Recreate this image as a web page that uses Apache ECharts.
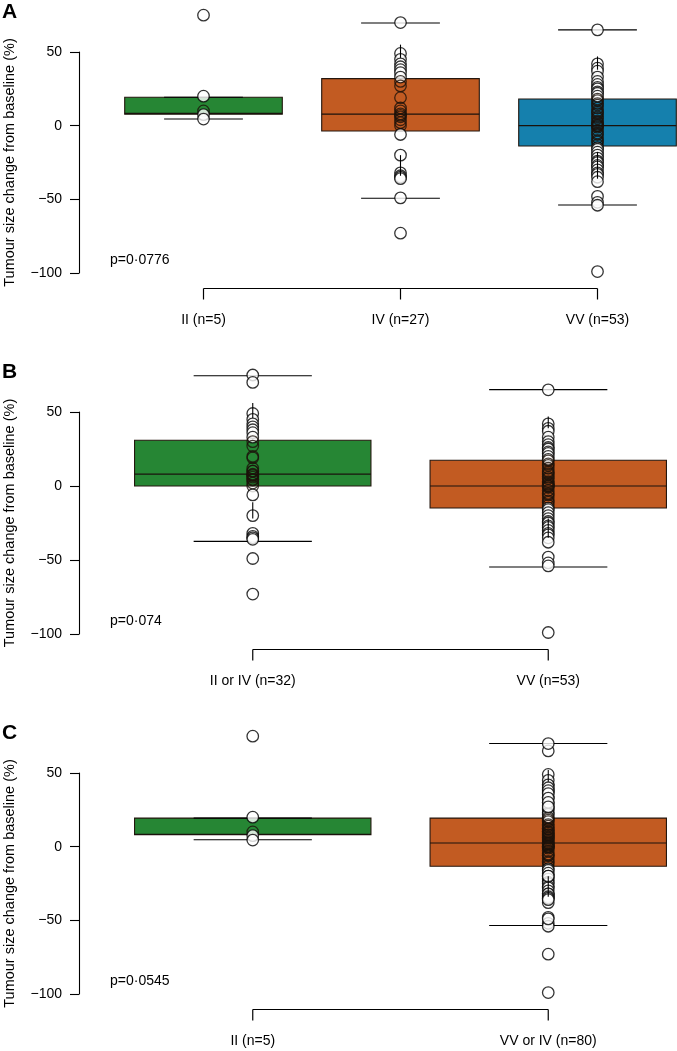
<!DOCTYPE html>
<html><head><meta charset="utf-8">
<script src="https://cdn.jsdelivr.net/npm/echarts@6/dist/echarts.min.js"></script>
<style>html,body{margin:0;padding:0;background:#fff}#c{width:677px;height:1051px}</style>
</head><body><div id="c"></div>
<script>
// ---------- data ----------
const catsA = ['II (n=5)', 'IV (n=27)', 'VV (n=53)'];
const catsB = ['II or IV (n=32)', 'VV (n=53)'];
const catsC = ['II (n=5)', 'VV or IV (n=80)'];

const ptsII = [75, 20, 10, 7.5, 4.5];
const ptsIV = [70, 49, 45, 42, 40, 38, 36, 33, 30, 27, 19, 12, 10, 8, 7, 6, 4, 2, 0, -6, -20, -32, -34, -35, -36, -49, -73];
const ptsVV = [65, 42, 39, 37, 33, 30, 28, 26, 25, 23, 22, 20, 18, 17, 15, 14, 12, 10, 9, 8, 6, 5, 3, 2, 1, 0, 0, -1, -3, -5, -6, -8, -10, -11, -13, -15, -16, -18, -20, -22, -24, -25, -27, -28, -30, -32, -33, -35, -38, -48, -52, -54, -99];

// [lower whisker end, Q1, median, Q3, upper whisker end]
const statsA = [[4.5, 7.8, 8.3, 19.3, 19.3], [-49.3, -3.6, 7.9, 31.9, 69.7], [-53.8, -13.8, 0, 18.1, 65]];
const statsB = [[-37.4, 0, 8, 30.9, 74.5], [-54.7, -14.9, 0, 17.4, 65.1]];
const statsC = [[4.7, 8.1, 8.3, 19.4, 19.4], [-53.5, -13.3, 2.5, 19.4, 70]];

// visible whisker segments [from, to]
const stubsA = [[], [[46, 55], [-20, -34]], [[38, 47], [-18, -36]]];
const stubsB = [[[46, 56], [-11, -22]], [[39, 47], [-22, -35]]];
const stubsC = [[], [[44, 52], [-20, -34]]];

const pA = 'p=0\u00b70776', pB = 'p=0\u00b7074', pC = 'p=0\u00b70545';
const yTicks = [-100, -50, 0, 50];

// ---------- styling ----------
const FONT = 'Liberation Sans, Arial, Helvetica, sans-serif';
const GREEN = '#268634';
const ORANGE = '#c25b22';
const BLUE = '#1580ad';

const panels = [
  {letter: 'A', cats: catsA, groups: [ptsII, ptsIV, ptsVV], stats: statsA, stubs: stubsA, colors: [GREEN, ORANGE, BLUE], p: pA, top: 52, height: 221},
  {letter: 'B', cats: catsB, groups: [ptsII.concat(ptsIV), ptsVV], stats: statsB, stubs: stubsB, colors: [GREEN, ORANGE], p: pB, top: 412, height: 222},
  {letter: 'C', cats: catsC, groups: [ptsII, ptsVV.concat(ptsIV)], stats: statsC, stubs: stubsC, colors: [GREEN, ORANGE], p: pC, top: 773, height: 221}
];

const grid = [], xAxis = [], yAxis = [], series = [], graphic = [];
const GL = 105, GW = 591;

panels.forEach((P, k) => {
  const n = P.cats.length;
  grid.push({left: GL, width: GW, top: P.top, height: P.height, containLabel: false, outerBoundsMode: 'none'});
  xAxis.push({type: 'value', gridIndex: k, min: 0.5, max: n + 0.5, show: false});
  yAxis.push({
    type: 'value', gridIndex: k, min: yTicks[0], max: yTicks[yTicks.length - 1], interval: 50,
    offset: 26,
    axisLine: {show: true, lineStyle: {color: '#000', width: 1.1}},
    axisTick: {show: true, length: 9, lineStyle: {color: '#000', width: 1.1}},
    splitLine: {show: false},
    axisLabel: {margin: 17, fontSize: 14, color: '#000', fontFamily: FONT,
      formatter: v => String(v).replace('-', '\u2212')},
    name: 'Tumour size change from baseline (%)', nameLocation: 'middle', nameGap: 62,
    nameTextStyle: {fontSize: 14.5, color: '#000', fontFamily: FONT}
  });

  // boxes (fill, border, median) and whisker caps
  series.push({
    type: 'custom', xAxisIndex: k, yAxisIndex: k, z: 2, silent: true, clip: false,
    data: P.stats.map((s, i) => [i + 1].concat(s)),
    renderItem: (params, api) => {
      const x = api.value(0), i = params.dataIndex;
      const a = api.coord([x - 0.4, api.value(4)]), b = api.coord([x + 0.4, api.value(2)]);
      const m1 = api.coord([x - 0.4, api.value(3)]), m2 = api.coord([x + 0.4, api.value(3)]);
      const kids = [
        {type: 'rect', shape: {x: a[0], y: a[1], width: b[0] - a[0], height: b[1] - a[1]},
          style: {fill: P.colors[i], stroke: '#24170f', lineWidth: 1.1}},
        {type: 'line', shape: {x1: m1[0], y1: m1[1], x2: m2[0], y2: m2[1]}, style: {stroke: '#1a120c', lineWidth: 1.2}}
      ];
      [1, 5].forEach(d => {
        const c1 = api.coord([x - 0.2, api.value(d)]), c2 = api.coord([x + 0.2, api.value(d)]);
        kids.push({type: 'line', shape: {x1: c1[0], y1: c1[1], x2: c2[0], y2: c2[1]}, style: {stroke: '#000', lineWidth: 1.1}});
      });
      return {type: 'group', children: kids};
    }
  });

  // points: open circles, white interior outside the box
  series.push({
    type: 'scatter', xAxisIndex: k, yAxisIndex: k, z: 3, silent: true, clip: false,
    symbol: 'circle', symbolSize: 11.5,
    itemStyle: {borderColor: '#000', borderWidth: 1.3},
    data: [].concat(...P.groups.map((g, i) => g.map(v => {
      const s = P.stats[i];
      const inside = v >= s[1] && v <= s[3];
      return {value: [i + 1, v], itemStyle: {color: inside ? 'rgba(0,0,0,0)' : '#fff', borderColor: inside ? '#1c110a' : '#000'}};
    })))
  });

  // visible whisker segments
  series.push({
    type: 'custom', xAxisIndex: k, yAxisIndex: k, z: 5, silent: true, clip: false,
    data: P.stubs.map((s, i) => [i + 1, 0]),
    renderItem: (params, api) => {
      const x = api.value(0), segs = P.stubs[params.dataIndex];
      return {type: 'group', children: segs.map(sg => {
        const a = api.coord([x, sg[0]]), b = api.coord([x, sg[1]]);
        return {type: 'line', shape: {x1: a[0], y1: a[1], x2: b[0], y2: b[1]}, style: {stroke: '#000', lineWidth: 1.1}};
      })};
    }
  });

  // group bracket + category labels
  series.push({
    type: 'custom', xAxisIndex: k, yAxisIndex: k, z: 5, silent: true, clip: false,
    data: P.cats.map((c, i) => [i + 1, yTicks[0]]),
    renderItem: (params, api) => {
      const x = api.value(0), i = params.dataIndex;
      const p = api.coord([x, api.value(1)]);
      const y0 = p[1] + 15.5;
      const kids = [
        {type: 'line', shape: {x1: p[0], y1: y0, x2: p[0], y2: y0 + 11}, style: {stroke: '#000', lineWidth: 1.2}},
        {type: 'text', style: {text: P.cats[i], x: p[0], y: p[1] + 47, fontSize: 14, fontFamily: FONT, fill: '#000',
          align: 'center', verticalAlign: 'middle', textAlign: 'center', textVerticalAlign: 'middle'}}
      ];
      if (i === 0) {
        const q = api.coord([n, api.value(1)]);
        kids.push({type: 'line', shape: {x1: p[0], y1: y0, x2: q[0], y2: y0}, style: {stroke: '#000', lineWidth: 1.2}});
      }
      return {type: 'group', children: kids};
    }
  });

  const bottom = P.top + P.height;
  graphic.push({type: 'text', x: 2, y: P.top - 50,
    style: {text: P.letter, font: 'bold 21px ' + FONT, fill: '#000', textVerticalAlign: 'top', verticalAlign: 'top'}});
  graphic.push({type: 'text', x: 110, y: bottom - 12.5,
    style: {text: P.p, font: '14px ' + FONT, fill: '#000', textVerticalAlign: 'middle', verticalAlign: 'middle'}});
});

const chart = echarts.init(document.getElementById('c'), null, {renderer: 'canvas'});
chart.setOption({animation: false, backgroundColor: '#fff', grid, xAxis, yAxis, series, graphic});
</script>
</body></html>
